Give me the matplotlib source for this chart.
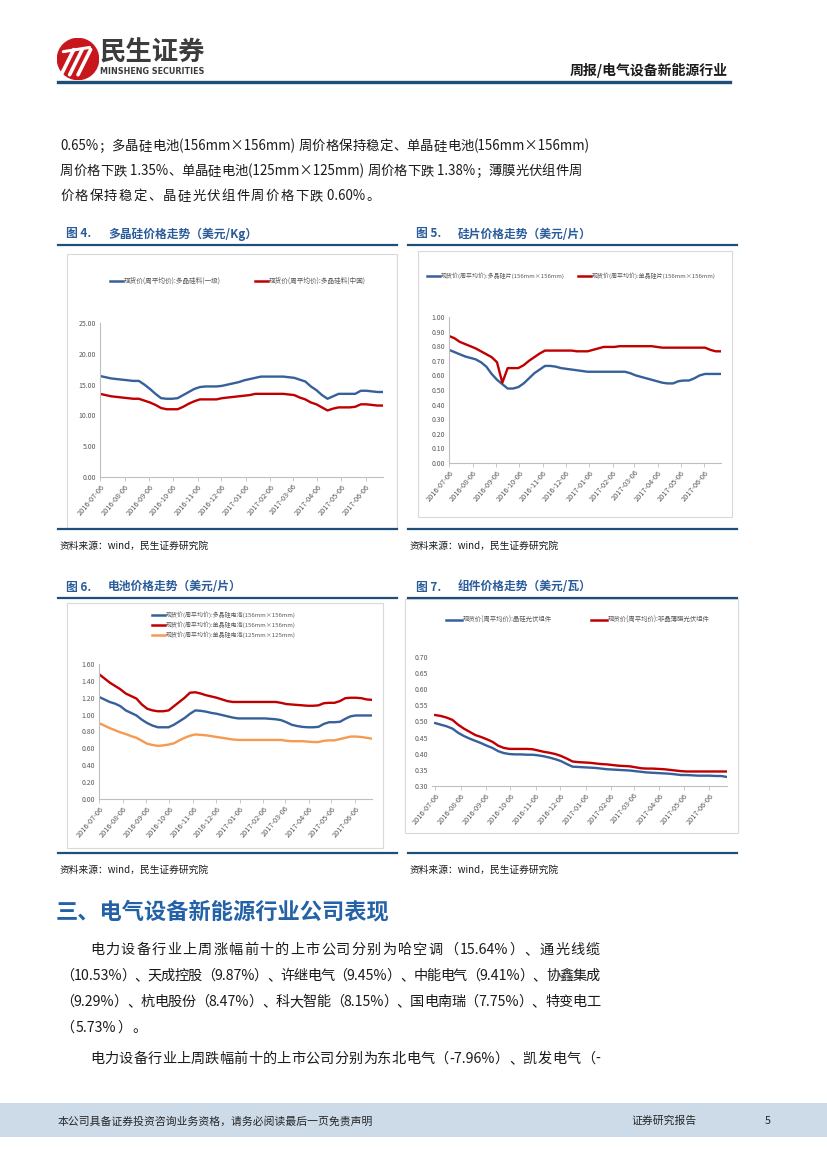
import matplotlib
matplotlib.use('Agg')
import matplotlib.pyplot as plt
import matplotlib.patches as patches
from matplotlib.lines import Line2D
import pandas as pd

plt.rcParams['font.family'] = ['Noto Sans CJK SC', 'DejaVu Sans']
plt.rcParams['axes.unicode_minus'] = False

W, H = 827, 1169

# weekly spot prices, 2016-07-06 .. 2017-06-28
dates = pd.date_range('2016-07-06', periods=52, freq='7D')
tick_labels = ['2016-07-06', '2016-08-06', '2016-09-06', '2016-10-06', '2016-11-06', '2016-12-06',
               '2017-01-06', '2017-02-06', '2017-03-06', '2017-04-06', '2017-05-06', '2017-06-06']

# Fig 4 polysilicon (USD/kg)
poly_a = [16.4, 16.2, 16.0, 15.9, 15.8, 15.7, 15.6, 15.6, 15.0, 14.3, 13.5, 12.8, 12.7, 12.7, 12.8, 13.3,
          13.8, 14.3, 14.6, 14.7, 14.7, 14.7, 14.8, 15.0, 15.2, 15.4, 15.7, 15.9, 16.1, 16.3, 16.3, 16.3,
          16.3, 16.3, 16.2, 16.1, 15.8, 15.5, 14.7, 14.1, 13.3, 12.7, 13.1, 13.5, 13.5, 13.5, 13.5, 14.0,
          14.0, 13.9, 13.8, 13.8]
poly_b = [13.5, 13.3, 13.1, 13.0, 12.9, 12.8, 12.7, 12.7, 12.4, 12.1, 11.7, 11.2, 11.0, 11.0, 11.0, 11.4,
          11.9, 12.3, 12.6, 12.6, 12.6, 12.6, 12.8, 12.9, 13.0, 13.1, 13.2, 13.3, 13.5, 13.5, 13.5, 13.5,
          13.5, 13.5, 13.4, 13.3, 12.9, 12.6, 12.1, 11.8, 11.3, 10.8, 11.1, 11.3, 11.3, 11.3, 11.4, 11.8,
          11.8, 11.7, 11.6, 11.6]

# Fig 5 wafers (USD/piece)
wafer_multi = [0.775, 0.76, 0.745, 0.73, 0.72, 0.71, 0.69, 0.66, 0.61, 0.57, 0.54, 0.51, 0.51, 0.52, 0.545,
               0.58, 0.615, 0.64, 0.665, 0.665, 0.66, 0.65, 0.645, 0.64, 0.635, 0.63, 0.625, 0.625, 0.625,
               0.625, 0.625, 0.625, 0.625, 0.625, 0.615, 0.60, 0.59, 0.58, 0.57, 0.56, 0.55, 0.545, 0.545,
               0.56, 0.565, 0.565, 0.58, 0.60, 0.61, 0.61, 0.61, 0.61]
wafer_mono = [0.87, 0.855, 0.83, 0.815, 0.80, 0.785, 0.765, 0.745, 0.725, 0.69, 0.55, 0.65, 0.65, 0.65, 0.67,
              0.70, 0.725, 0.75, 0.77, 0.77, 0.77, 0.77, 0.77, 0.77, 0.765, 0.765, 0.765, 0.775, 0.785,
              0.795, 0.795, 0.795, 0.80, 0.80, 0.80, 0.80, 0.80, 0.80, 0.80, 0.795, 0.79, 0.79, 0.79, 0.79,
              0.79, 0.79, 0.79, 0.79, 0.79, 0.775, 0.765, 0.765]

# Fig 6 cells (USD/piece)
cell_multi156 = [1.21, 1.18, 1.15, 1.13, 1.10, 1.05, 1.02, 0.99, 0.94, 0.90, 0.87, 0.85, 0.85, 0.85, 0.88,
                 0.92, 0.96, 1.01, 1.05, 1.045, 1.035, 1.02, 1.01, 0.995, 0.98, 0.965, 0.955, 0.955, 0.955,
                 0.955, 0.955, 0.955, 0.95, 0.945, 0.935, 0.91, 0.88, 0.865, 0.855, 0.85, 0.85, 0.855, 0.89,
                 0.91, 0.91, 0.915, 0.95, 0.98, 0.99, 0.99, 0.99, 0.99]
cell_mono156 = [1.48, 1.43, 1.38, 1.34, 1.30, 1.25, 1.22, 1.19, 1.12, 1.07, 1.05, 1.04, 1.04, 1.05, 1.10,
                1.15, 1.20, 1.26, 1.265, 1.25, 1.23, 1.215, 1.20, 1.18, 1.16, 1.15, 1.15, 1.15, 1.15, 1.15,
                1.15, 1.15, 1.15, 1.15, 1.14, 1.125, 1.12, 1.115, 1.11, 1.105, 1.105, 1.11, 1.135, 1.14,
                1.14, 1.16, 1.195, 1.20, 1.20, 1.195, 1.18, 1.175]
cell_mono125 = [0.90, 0.87, 0.84, 0.815, 0.79, 0.77, 0.745, 0.725, 0.69, 0.655, 0.64, 0.63, 0.635, 0.645,
                0.66, 0.695, 0.725, 0.75, 0.765, 0.76, 0.755, 0.745, 0.735, 0.725, 0.715, 0.705, 0.70, 0.70,
                0.70, 0.70, 0.70, 0.70, 0.70, 0.70, 0.70, 0.69, 0.685, 0.685, 0.685, 0.68, 0.675, 0.675,
                0.69, 0.695, 0.695, 0.71, 0.725, 0.74, 0.74, 0.735, 0.725, 0.715]

# Fig 7 modules (USD/W)
module_csi = [0.495, 0.49, 0.485, 0.478, 0.465, 0.455, 0.447, 0.44, 0.433, 0.425, 0.418, 0.408, 0.402,
              0.399, 0.398, 0.398, 0.397, 0.397, 0.395, 0.392, 0.388, 0.383, 0.377, 0.368, 0.36, 0.359,
              0.358, 0.357, 0.356, 0.354, 0.352, 0.351, 0.35, 0.349, 0.348, 0.346, 0.344, 0.342, 0.341,
              0.34, 0.339, 0.338, 0.336, 0.334, 0.334, 0.333, 0.332, 0.332, 0.332, 0.331, 0.331, 0.328]
module_film = [0.52, 0.517, 0.512, 0.505, 0.49, 0.478, 0.468, 0.458, 0.452, 0.445, 0.437, 0.425, 0.418,
               0.415, 0.415, 0.415, 0.415, 0.414, 0.41, 0.406, 0.403, 0.399, 0.393, 0.385, 0.376, 0.374,
               0.373, 0.372, 0.37, 0.368, 0.367, 0.365, 0.363, 0.362, 0.361, 0.358, 0.355, 0.354, 0.354,
               0.353, 0.352, 0.35, 0.348, 0.346, 0.345, 0.345, 0.345, 0.345, 0.345, 0.345, 0.345, 0.345]

BLUE = '#36609A'
RED = '#C00000'
ORANGE = '#F59A50'
TITLE_BLUE = '#2A5C9A'
RULE_BLUE = '#1F4E79'
GRAY = '#595959'

fig = plt.figure(figsize=(W / 100, H / 100), dpi=100)
renderer = fig.canvas.get_renderer()


def text(x, y, s, **kw):
    kw.setdefault('va', 'center')
    return fig.text(x / W, 1 - y / H, s, **kw)


def hline(x0, x1, y, color, lw):
    fig.add_artist(Line2D([x0 / W, x1 / W], [1 - y / H] * 2, color=color, lw=lw,
                          transform=fig.transFigure))


def rect(x0, y0, x1, y1, **kw):
    fig.add_artist(patches.Rectangle((x0 / W, 1 - y1 / H), (x1 - x0) / W, (y1 - y0) / H,
                                     transform=fig.transFigure, **kw))


def axes_px(x0, y0, x1, y1):
    return fig.add_axes([x0 / W, 1 - y1 / H, (x1 - x0) / W, (y1 - y0) / H])


def tokens(s):
    out, buf = [], ''
    for ch in s:
        if ord(ch) < 128 or ch == '×':
            buf += ch
        else:
            if buf:
                out.append(buf)
                buf = ''
            out.append(ch)
    if buf:
        out.append(buf)
    return out


def justified(x0, x1, y, s, size=10.2, color='#1a1a1a'):
    # spread glyphs to fill the line like the justified report text
    items = [fig.text(0, 0, t, fontsize=size, color=color, va='baseline') for t in tokens(s)]
    widths = [t.get_window_extent(renderer).width for t in items]
    gap = (x1 - x0 - sum(widths)) / max(len(items) - 1, 1) if x1 else 1.2
    x = x0
    for t, w in zip(items, widths):
        t.set_position((x / W, 1 - (y + 5) / H))
        x += w + gap


def legend_item(x, y, color, label, size=4.6, seg=13):
    hline(x, x + seg, y, color, 1.8)
    text(x + seg + 1, y, label, fontsize=size, color=GRAY)


def chart(ax, series, ylim, yticks, left_spine=True, xpad=0):
    for vals, color in series:
        ax.plot(dates, vals, color=color, lw=1.7, solid_joinstyle='round')
    ax.set_xlim(dates[0] - pd.Timedelta(days=xpad), dates[-1])
    ax.set_ylim(*ylim)
    ax.set_yticks(yticks)
    ax.set_yticklabels([f'{v:.2f}' for v in yticks], fontsize=5, color=GRAY)
    ax.set_xticks(pd.to_datetime(tick_labels))
    ax.set_xticklabels(tick_labels, rotation=50, ha='right', rotation_mode='anchor',
                       fontsize=5.3, color=GRAY)
    for s in ['top', 'right']:
        ax.spines[s].set_visible(False)
    ax.spines['left'].set_visible(left_spine)
    ax.spines['left'].set_color('#BFBFBF')
    ax.spines['bottom'].set_color('#BFBFBF')
    ax.spines['left'].set_linewidth(0.8)
    ax.spines['bottom'].set_linewidth(0.8)
    ax.tick_params(axis='y', length=0, pad=3)
    ax.tick_params(axis='x', length=3, width=0.6, color='#BFBFBF', pad=1)
    ax.patch.set_alpha(0)


# ---------- header ----------
logo = fig.add_axes([57 / W, 1 - 80 / H, 42 / W, 42 / H])
logo.set_xlim(-1, 1)
logo.set_ylim(-1, 1)
logo.set_aspect('equal')
logo.axis('off')
logo.add_patch(patches.Circle((0, 0), 0.98, color='#C8161D'))
for dx in [-0.45, -0.05, 0.35]:
    logo.plot([dx - 0.35, dx + 0.25], [-0.75, 0.45], color='white', lw=2.6, solid_capstyle='round')
logo.plot([-0.7, 0.55], [0.35, 0.55], color='white', lw=2.2, solid_capstyle='round')

text(100, 53, '民生证券', fontsize=19, fontweight='bold', color='#3C3C3C')
text(100, 72, 'MINSHENG SECURITIES', fontsize=5.8, fontweight='bold', color='#3C3C3C',
     family='DejaVu Sans')
text(728, 70, '周报/电气设备新能源行业', fontsize=10, fontweight='bold', color='#1a1a1a', ha='right')
hline(58, 730, 82, RULE_BLUE, 2.4)

# ---------- paragraph 1 ----------
justified(60, 590, 145, '0.65%；多晶硅电池(156mm×156mm) 周价格保持稳定、单晶硅电池(156mm×156mm)', size=9.6)
justified(60, 582, 170, '周价格下跌 1.35%、单晶硅电池(125mm×125mm) 周价格下跌 1.38%；薄膜光伏组件周', size=9.6)
justified(60, 380, 195, '价格保持稳定、晶硅光伏组件周价格下跌 0.60%。', size=9.6)

# ---------- figure titles ----------
for x0, x1, y, num, title in [(58, 397, 234, '图 4.', '多晶硅价格走势（美元/Kg）'),
                              (408, 737, 234, '图 5.', '硅片价格走势（美元/片）'),
                              (58, 397, 587, '图 6.', '电池价格走势（美元/片）'),
                              (408, 737, 587, '图 7.', '组件价格走势（美元/瓦）')]:
    text(x0 + 8, y, num, fontsize=8.5, fontweight='bold', color=TITLE_BLUE)
    text(x0 + 50, y, title, fontsize=8.5, fontweight='bold', color=TITLE_BLUE)
    hline(x0, x1, y + 11, RULE_BLUE, 1.6)

# chart frames
rect(67, 254, 397, 528, fill=False, edgecolor='#D9D9D9', lw=0.8)
rect(418, 251, 732, 517, fill=False, edgecolor='#D9D9D9', lw=0.8)
rect(67, 603, 383, 848, fill=False, edgecolor='#D9D9D9', lw=0.8)
rect(405, 599, 738, 833, fill=False, edgecolor='#D9D9D9', lw=0.8)

# ---------- Fig 4 ----------
ax4 = axes_px(100, 323, 383, 477)
chart(ax4, [(poly_a, BLUE), (poly_b, RED)], (0, 25), [0, 5, 10, 15, 20, 25])
legend_item(110, 281, BLUE, '现货价(周平均价):多晶硅料(一级)', size=4.8)
legend_item(255, 281, RED, '现货价(周平均价):多晶硅料(中国)', size=4.8)

# ---------- Fig 5 ----------
ax5 = axes_px(449, 317, 721, 463)
chart(ax5, [(wafer_multi, BLUE), (wafer_mono, RED)], (0, 1.0),
      [0, 0.1, 0.2, 0.3, 0.4, 0.5, 0.6, 0.7, 0.8, 0.9, 1.0])
legend_item(427, 276, BLUE, '现货价(周平均价):多晶硅片(156mm×156mm)', size=4.3)
legend_item(578, 276, RED, '现货价(周平均价):单晶硅片(156mm×156mm)', size=4.3)

# ---------- Fig 6 ----------
ax6 = axes_px(99, 664, 372, 799)
chart(ax6, [(cell_multi156, BLUE), (cell_mono156, RED), (cell_mono125, ORANGE)], (0, 1.6),
      [0, 0.2, 0.4, 0.6, 0.8, 1.0, 1.2, 1.4, 1.6])
legend_item(152, 615, BLUE, '现货价(周平均价):多晶硅电池(156mm×156mm)', size=4.3)
legend_item(152, 625, RED, '现货价(周平均价):单晶硅电池(156mm×156mm)', size=4.3)
legend_item(152, 635, ORANGE, '现货价(周平均价):单晶硅电池(125mm×125mm)', size=4.3)

# ---------- Fig 7 ----------
ax7 = axes_px(432, 657, 727, 786)
chart(ax7, [(module_csi, BLUE), (module_film, RED)], (0.30, 0.70),
      [0.30, 0.35, 0.40, 0.45, 0.50, 0.55, 0.60, 0.65, 0.70], left_spine=False, xpad=4)
legend_item(446, 620, BLUE, '现货价(周平均价):晶硅光伏组件', size=4.6, seg=16)
legend_item(591, 620, RED, '现货价(周平均价):非晶薄膜光伏组件', size=4.6, seg=16)

# separators and sources
for x0, x1, y in [(58, 397, 529), (408, 737, 529), (58, 397, 853), (408, 737, 853)]:
    hline(x0, x1, y, RULE_BLUE, 1.6)
for x, y in [(60, 546), (410, 546), (60, 870), (410, 870)]:
    text(x, y, '资料来源：wind，民生证券研究院', fontsize=7, color='#1a1a1a')

# ---------- section 3 ----------
text(56, 912, '三、电气设备新能源行业公司表现', fontsize=16, fontweight='bold', color='#2462A8')
justified(90, 600, 949, '电力设备行业上周涨幅前十的上市公司分别为哈空调（15.64%）、通光线缆')
justified(60, 600, 975, '（10.53%）、天成控股（9.87%）、许继电气（9.45%）、中能电气（9.41%）、协鑫集成')
justified(60, 600, 1001, '（9.29%）、杭电股份（8.47%）、科大智能（8.15%）、国电南瑞（7.75%）、特变电工')
justified(60, 0, 1027, '（5.73%）。')
justified(90, 600, 1058, '电力设备行业上周跌幅前十的上市公司分别为东北电气（-7.96%）、凯发电气（-')

# ---------- footer ----------
rect(0, 1103, W, 1137, color='#CDDBE9', lw=0)
text(58, 1121, '本公司具备证券投资咨询业务资格，请务必阅读最后一页免责声明', fontsize=7.8, color='#262626')
text(631, 1121, '证券研究报告', fontsize=7.8, color='#262626')
text(765, 1121, '5', fontsize=7.8, color='#262626')

fig.savefig('out.png', dpi=100)
